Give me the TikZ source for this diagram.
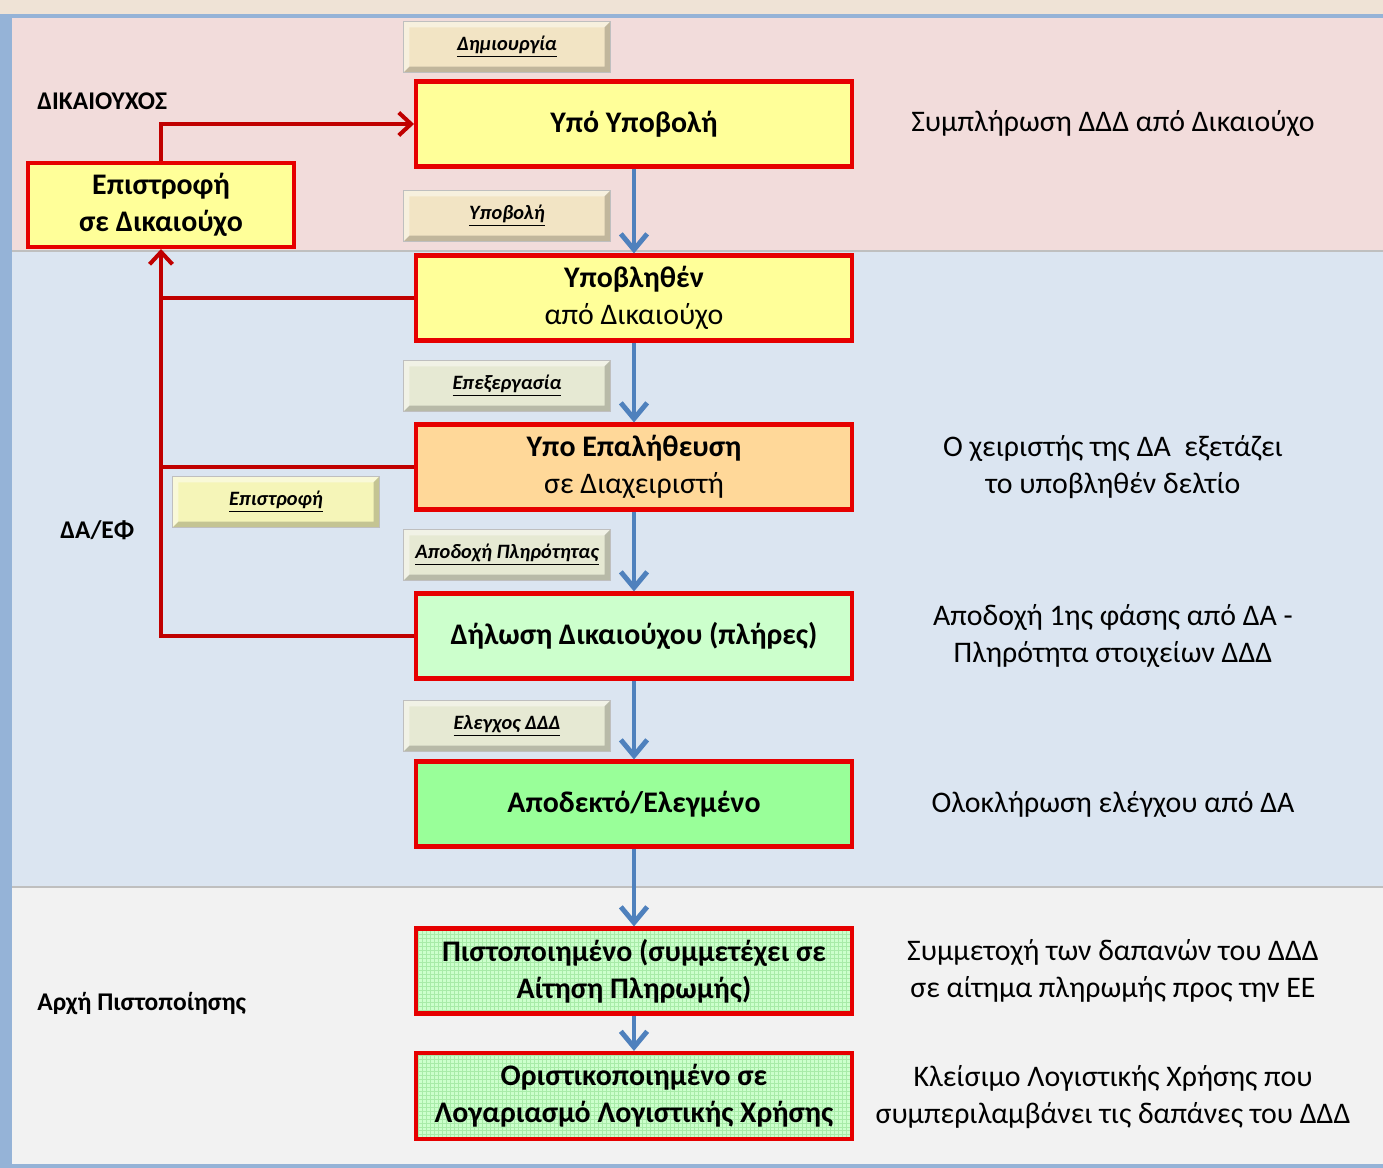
\documentclass[tikz,border=0pt]{standalone}
\usepackage{fontspec}
\setmainfont{Carlito}
\usetikzlibrary{arrows.meta,calc}
\definecolor{topstrip}{HTML}{EFE3D6}
\definecolor{frameblue}{HTML}{95B3D7}
\definecolor{pinkreg}{HTML}{F2DCDB}
\definecolor{bluereg}{HTML}{DBE5F1}
\definecolor{grayreg}{HTML}{F2F2F2}
\definecolor{yel}{HTML}{FFFF99}
\definecolor{orng}{HTML}{FFD899}
\definecolor{lgreen}{HTML}{CCFFCC}
\definecolor{dgreen}{HTML}{99FF99}
\definecolor{gridgreen}{HTML}{A8EBA8}
\definecolor{boxred}{HTML}{E60000}
\definecolor{linered}{HTML}{C00000}
\definecolor{arrblue}{HTML}{4F81BD}
\definecolor{tabbeige}{HTML}{F2E4C4}
\definecolor{tabgrey}{HTML}{E6E9D3}
\definecolor{tabyel}{HTML}{F5F5B8}
\tikzset{
  box/.style={draw=boxred, line width=2.3pt, minimum width=8.72cm, minimum height=1.7cm,
    align=center, font=\fontsize{17}{21}\selectfont\bfseries, inner sep=2pt},
  gridbox/.style={box, fill=lgreen, path picture={
      \draw[gridgreen, line width=0.3pt, step=0.08cm]
        (path picture bounding box.south west) grid (path picture bounding box.north east);}},
  tab/.style={minimum width=4.14cm, minimum height=1.02cm, draw=black!25, line width=0.4pt,
    font=\fontsize{11.6}{13}\selectfont\bfseries\itshape,
    path picture={
      \fill[white,opacity=.45] (path picture bounding box.south west) -- (path picture bounding box.north west)
        -- (path picture bounding box.north east) -- ([xshift=-3.4pt,yshift=-3.4pt]path picture bounding box.north east)
        -- ([xshift=3.4pt,yshift=-3.4pt]path picture bounding box.north west)
        -- ([xshift=3.4pt,yshift=3.4pt]path picture bounding box.south west) -- cycle;
      \fill[black,opacity=.2] (path picture bounding box.south west) -- (path picture bounding box.south east)
        -- (path picture bounding box.north east) -- ([xshift=-3.4pt,yshift=-3.4pt]path picture bounding box.north east)
        -- ([xshift=-3.4pt,yshift=3.4pt]path picture bounding box.south east)
        -- ([xshift=3.4pt,yshift=3.4pt]path picture bounding box.south west) -- cycle;}},
  flow/.style={arrblue, line width=2.8pt, -{Straight Barb[length=9pt,width=15pt,line width=2.8pt]}},
  back/.style={linered, line width=2.3pt},
  backarr/.style={back, -{Straight Barb[length=7pt,width=13pt,line width=2.3pt]}},
  side/.style={align=center, font=\fontsize{17}{21}\selectfont},
  lane/.style={anchor=west, inner sep=0pt, font=\fontsize{14.5}{17}\selectfont\bfseries}
}
\begin{document}
\begin{tikzpicture}[x=0.02cm,y=-0.02cm]
\useasboundingbox (0,0) rectangle (1383,1168);
% backgrounds
\fill[topstrip] (0,0) rectangle (1383,1168);
\fill[frameblue] (0,14) rectangle (1383,1168);
\fill[pinkreg] (12,18) rectangle (1383,250);
\fill[bluereg] (12,252) rectangle (1383,886);
\fill[grayreg] (12,888) rectangle (1383,1164);
\draw[black!25, line width=0.6pt] (12,251) -- (1383,251);
\draw[black!25, line width=0.6pt] (12,887) -- (1383,887);

% lane labels
\node[lane] (l1) at (37,101) {ΔΙΚΑΙΟΥΧΟΣ};
\node[lane] (l2) at (60,530) {ΔΑ/ΕΦ};
\node[lane] (l3) at (37,1004) {Αρχή Πιστοποίησης};

% tabs
\node[tab, fill=tabbeige] (t1) at (507,47) {\underline{Δημιουργία}};
\node[tab, fill=tabbeige] (t2) at (507,216) {\underline{Υποβολή}};
\node[tab, fill=tabgrey] (t3) at (507,386) {\underline{Επεξεργασία}};
\node[tab, fill=tabyel] (t4) at (276,502) {\underline{Επιστροφή}};
\node[tab, fill=tabgrey] (t5) at (507,555) {\underline{Αποδοχή Πληρότητας}};
\node[tab, fill=tabgrey] (t6) at (507,726) {\underline{Ελεγχος ΔΔΔ}};

% boxes
\node[box, fill=yel] (b1) at (634,124) {Υπό Υποβολή};
\node[box, fill=yel, minimum width=5.32cm, minimum height=1.68cm] (ret) at (161,205) {Επιστροφή\\σε Δικαιούχο};
\node[box, fill=yel] (b2) at (634,298) {Υποβληθέν\\\mdseries από Δικαιούχο};
\node[box, fill=orng] (b3) at (634,467) {Υπο Επαλήθευση\\\mdseries σε Διαχειριστή};
\node[box, fill=lgreen] (b4) at (634,636) {Δήλωση Δικαιούχου (πλήρες)};
\node[box, fill=dgreen] (b5) at (634,804) {Αποδεκτό/Ελεγμένο};
\node[gridbox] (b6) at (634,971) {Πιστοποιημένο (συμμετέχει σε\\Αίτηση Πληρωμής)};
\node[gridbox, minimum height=1.72cm] (b7) at (634,1096) {Οριστικοποιημένο σε\\Λογαριασμό Λογιστικής Χρήσης};

% side texts
\node[side] (s1) at (1113,124) {Συμπλήρωση ΔΔΔ από Δικαιούχο};
\node[side] (s2) at (1113,467) {Ο χειριστής της ΔΑ\ \ εξετάζει\\το υποβληθέν δελτίο};
\node[side] (s3) at (1113,636) {Αποδοχή 1ης φάσης από ΔΑ -\\Πληρότητα στοιχείων ΔΔΔ};
\node[side] (s4) at (1113,804) {Ολοκλήρωση ελέγχου από ΔΑ};
\node[side] (s5) at (1113,971) {Συμμετοχή των δαπανών του ΔΔΔ\\σε αίτημα πληρωμής προς την ΕΕ};
\node[side] (s6) at (1113,1097) {Κλείσιμο Λογιστικής Χρήσης που\\συμπεριλαμβάνει τις δαπάνες του ΔΔΔ};

% flow arrows
\draw[flow] (b1.south) -- (b2.north);
\draw[flow] (b2.south) -- (b3.north);
\draw[flow] (b3.south) -- (b4.north);
\draw[flow] (b4.south) -- (b5.north);
\draw[flow] (b5.south) -- (b6.north);
\draw[flow] (b6.south) -- (b7.north);

% return lines
\draw[back] (b2.west) -- (b2.west -| ret.south);
\draw[back] (b3.west) -- (b3.west -| ret.south);
\draw[backarr] (b4.west) -| (ret.south);
\draw[backarr] (ret.north) |- (b1.west);
\end{tikzpicture}
\end{document}
